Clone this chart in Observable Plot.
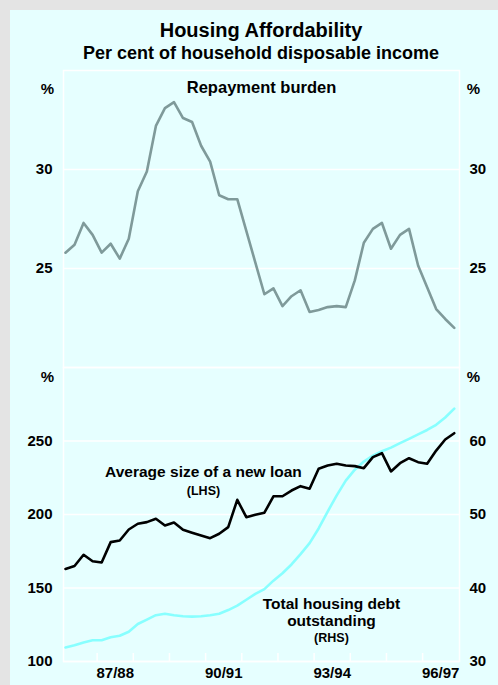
<!DOCTYPE html>
<html>
<head>
<meta charset="utf-8">
<script src="https://cdn.jsdelivr.net/npm/d3@7"></script>
<script src="https://cdn.jsdelivr.net/npm/@observablehq/plot@0.6"></script>
<style>
  html, body { margin: 0; padding: 0; }
  body { width: 498px; height: 685px; background: #e4e4e4; position: relative; overflow: hidden;
         font-family: "Liberation Sans", Arial, sans-serif; font-weight: bold; }
  #card { position: absolute; left: 10px; top: 10px; width: 488px; height: 675px; background: #e6ffff; }
  .ttl { position: absolute; left: 53px; width: 396px; text-align: center; color: #000; white-space: nowrap; }
  #title { top: 10px; font-size: 20px; line-height: 20px; }
  #subtitle { top: 34px; font-size: 18px; line-height: 18px; }
  #top, #bottom { position: absolute; left: 0; line-height: 0; }
  #top { top: 52px; }
  #bottom { top: 357px; }
  svg { overflow: visible; display: block; }
</style>
</head>
<body>
<div id="card">
  <div id="title" class="ttl">Housing Affordability</div>
  <div id="subtitle" class="ttl">Per cent of household disposable income</div>
  <div id="top"></div>
  <div id="bottom"></div>
</div>
<script>
// Quarters (quarter ending)
const quarters = ["Sep-86","Dec-86","Mar-87","Jun-87","Sep-87","Dec-87","Mar-88","Jun-88",
  "Sep-88","Dec-88","Mar-89","Jun-89","Sep-89","Dec-89","Mar-90","Jun-90",
  "Sep-90","Dec-90","Mar-91","Jun-91","Sep-91","Dec-91","Mar-92","Jun-92",
  "Sep-92","Dec-92","Mar-93","Jun-93","Sep-93","Dec-93","Mar-94","Jun-94",
  "Sep-94","Dec-94","Mar-95","Jun-95","Sep-95","Dec-95","Mar-96","Jun-96",
  "Sep-96","Dec-96","Mar-97","Jun-97"];

// Repayment burden, per cent of household disposable income
const repayment = [25.8,26.2,27.3,26.7,25.8,26.25,25.5,26.5,28.9,29.9,
  32.2,33.1,33.4,32.6,32.4,31.2,30.4,28.7,28.5,28.5,
  26.9,25.3,23.7,24.0,23.1,23.6,23.9,22.8,22.9,23.05,
  23.1,23.05,24.4,26.3,27.0,27.3,26.0,26.7,27.0,25.15,
  24.05,22.95,22.45,22.0];

// Average size of a new loan (LHS)
const newLoan = [163,165,172.6,168.2,167.3,181.2,182.3,189.8,193.7,194.8,
  197.1,192.5,194.6,189.6,187.6,185.7,183.9,186.9,191.4,210,
  198.2,199.8,201.2,212.4,212.4,216.3,219.3,217.5,231.1,233.3,
  234.5,233.3,232.9,231.5,239,241.7,229.3,234.9,238.3,235.6,
  234.5,243.5,251,255.3];

// Total housing debt outstanding (RHS)
const debt = [31.9,32.2,32.6,32.9,32.9,33.3,33.5,34.05,35.1,35.7,
  36.3,36.5,36.3,36.15,36.1,36.15,36.3,36.5,37.0,37.6,
  38.4,39.2,39.85,41.0,42.0,43.2,44.6,46.1,48.1,50.4,
  52.6,54.6,56.1,57.2,58.0,58.6,59.1,59.7,60.3,60.9,
  61.5,62.2,63.2,64.4];

// Fiscal years and tick labels
const fiscalYears = ["87/88","88/89","89/90","90/91","91/92","92/93","93/94","94/95","95/96","96/97"];
const shownYears = ["87/88","90/91","93/94","96/97"];
const topTicks = [25, 30];
const leftTicks = [100, 150, 200, 250];
const rightTicks = [30, 40, 50, 60];

// ---- derived structures ----
const monthNum = {Mar: 3, Jun: 6, Sep: 9, Dec: 12};
const qx = q => { const [m, y] = q.split("-"); return 1900 + (+y) + (monthNum[m] - 1.5) / 12; };
const fyStart = f => 1900 + (+f.slice(0, 2)) + 0.5;
const fyMid = f => 1900 + (+f.slice(3));
const rows = quarters.map((q, i) => ({x: qx(q), repayment: repayment[i], loan: newLoan[i], debt: debt[i]}));
const toLeft = r => 100 + (r - 30) * 5;
const fromLeft = l => (l - 100) / 5 + 30;

const W = 488, ML = 53, MR = 39;
const xDomain = [1986.57, 1997.52];
const font = {fontFamily: "'Liberation Sans', Arial, sans-serif", fontWeight: "bold", fontSize: "15px", background: "transparent", color: "#000", overflow: "visible"};
const pct = (anchor, dx, dy) => Plot.text(["%"], {frameAnchor: anchor, dx, dy, fontSize: 15, textAnchor: "middle", lineAnchor: "middle"});

const topPlot = Plot.plot({
  width: W, height: 305,
  marginLeft: ML, marginRight: MR, marginTop: 8, marginBottom: 0,
  style: font,
  x: {domain: xDomain, axis: null},
  y: {domain: [20, 35]},
  marks: [
    Plot.gridY(topTicks, {stroke: "#ffffff", strokeOpacity: 1, strokeWidth: 1.5}),
    Plot.frame({stroke: "#ffffff", strokeWidth: 1.5}),
    Plot.axisY(topTicks, {anchor: "left", tickSize: 0, tickPadding: 11, fontSize: 15, label: null}),
    Plot.axisY(topTicks, {anchor: "right", tickSize: 0, tickPadding: 10, fontSize: 15, label: null}),
    Plot.line(rows, {x: "x", y: "repayment", stroke: "#7f9a9a", strokeWidth: 2.6, strokeLinejoin: "round"}),
    Plot.text(["Repayment burden"], {frameAnchor: "top", dy: 17, fontSize: 16.5, fontWeight: "bold", textAnchor: "middle", lineAnchor: "middle"}),
    pct("top-left", -16, 19),
    pct("top-right", 14, 19)
  ]
});
document.getElementById("top").append(topPlot);

const bottomPlot = Plot.plot({
  width: W, height: 318,
  marginLeft: ML, marginRight: MR, marginTop: 0, marginBottom: 24,
  style: font,
  x: {domain: xDomain},
  y: {domain: [100, 300]},
  marks: [
    Plot.gridY(leftTicks, {stroke: "#ffffff", strokeOpacity: 1, strokeWidth: 1.5}),
    Plot.frame({stroke: "#ffffff", strokeWidth: 1.5}),
    Plot.ruleX(fiscalYears.map(fyStart), {stroke: "#ffffff", strokeWidth: 1.5, insetTop: 286}),
    Plot.axisX(shownYears.map(fyMid), {anchor: "bottom", tickSize: 0, tickPadding: 6, fontSize: 15, label: null,
      tickFormat: d => shownYears.find(f => fyMid(f) === d)}),
    Plot.axisY(leftTicks, {anchor: "left", tickSize: 0, tickPadding: 11, fontSize: 15, label: null}),
    Plot.axisY(rightTicks.map(toLeft), {anchor: "right", tickSize: 0, tickPadding: 10, fontSize: 15, label: null,
      tickFormat: d => String(Math.round(fromLeft(d)))}),
    Plot.line(rows, {x: "x", y: d => toLeft(d.debt), stroke: "#88ffff", strokeWidth: 2.6, strokeLinejoin: "round"}),
    Plot.line(rows, {x: "x", y: "loan", stroke: "#000000", strokeWidth: 2.6, strokeLinejoin: "round"}),
    Plot.text(["Average size of a new loan"], {x: [1990.44], y: [228.6], fontSize: 15.5, fontWeight: "bold"}),
    Plot.text(["(LHS)"], {x: [1990.44], y: [216.3], fontSize: 12.5, fontWeight: "bold"}),
    Plot.text(["Total housing debt\noutstanding"], {x: [1993.98], y: [133.7], fontSize: 15.5, fontWeight: "bold", lineHeight: 1.1}),
    Plot.text(["(RHS)"], {x: [1993.98], y: [116.3], fontSize: 12.5, fontWeight: "bold"}),
    pct("top-left", -16, 10),
    pct("top-right", 14, 10)
  ]
});
document.getElementById("bottom").append(bottomPlot);
</script>
</body>
</html>
